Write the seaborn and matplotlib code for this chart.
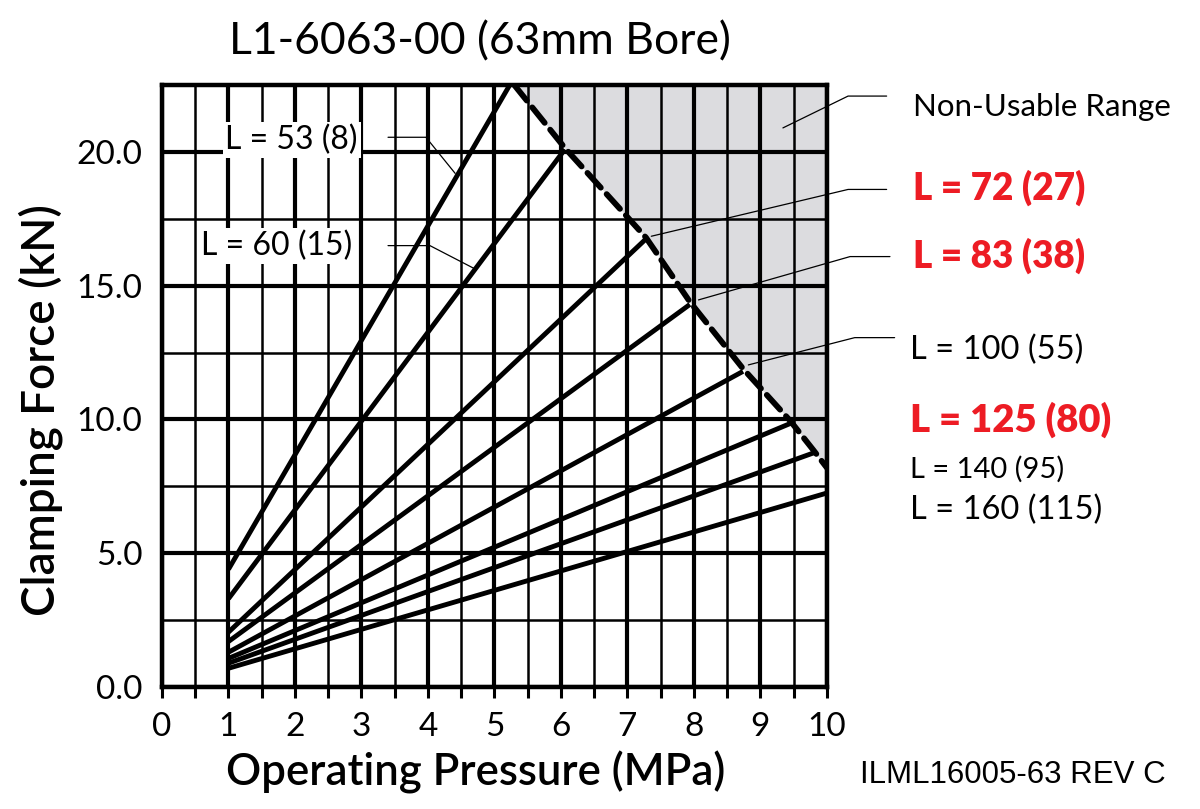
import numpy as np
import pandas as pd
import matplotlib
matplotlib.use("Agg")
import matplotlib.pyplot as plt
import seaborn as sns

# --- data ---
lengths = ["L = 53 (8)", "L = 60 (15)", "L = 72 (27)", "L = 83 (38)",
           "L = 100 (55)", "L = 125 (80)", "L = 140 (95)", "L = 160 (115)"]
start_pressure = [1, 1, 1, 1, 1, 1, 1, 1]
start_force = [4.4, 3.3, 2.05, 1.7, 1.3, 1.07, 0.89, 0.7]
end_pressure = [5.3, 6.06, 7.28, 7.94, 8.74, 9.45, 9.8, 10.0]
end_force = [22.8, 20.1, 16.75, 14.3, 11.8, 9.85, 8.75, 7.25]

# non-usable range boundary (dashed)
limit_pressure = [5.3, 6.06, 7.28, 7.94, 8.74, 9.45, 9.8, 10.0]
limit_force = [22.5, 20.15, 16.8, 14.4, 11.9, 9.95, 8.85, 8.2]

x_ticks = [0, 1, 2, 3, 4, 5, 6, 7, 8, 9, 10]
y_ticks = [0.0, 5.0, 10.0, 15.0, 20.0]
y_ticklabels = ["0.0", "5.0", "10.0", "15.0", "20.0"]

RED = "#ed1c24"

sns.set_theme(style="white")
plt.rcParams["font.family"] = ["Lato", "DejaVu Sans"]
plt.rcParams["text.color"] = "black"
plt.rcParams["xtick.color"] = "black"
plt.rcParams["ytick.color"] = "black"

rows = []
for name, x0, y0, x1, y1 in zip(lengths, start_pressure, start_force, end_pressure, end_force):
    rows.append({"length": name, "pressure": x0, "force": y0})
    rows.append({"length": name, "pressure": x1, "force": y1})
df = pd.DataFrame(rows)

fig = plt.figure(figsize=(12, 8.09), dpi=100)
ax = fig.add_axes([0.135, 0.1508, 0.554, 0.744])

# shaded non-usable area (grid shows through it)
ax.fill_between(limit_pressure, limit_force, 22.5, color="#dcdcdf", zorder=0.3, lw=0)

sns.lineplot(data=df, x="pressure", y="force", units="length", estimator=None,
             color="black", lw=3.5, ax=ax, legend=False, zorder=4,
             solid_capstyle="butt")

ax.plot(limit_pressure, limit_force, color="black", lw=4.2, zorder=5,
        linestyle=(0, (3.4, 1.5)), dash_capstyle="round")

ax.set_xlim(0, 10)
ax.set_ylim(0, 22.5)

# grid: thick on majors, thinner on halves
ax.set_xticks(x_ticks)
ax.set_xticks(np.arange(0.5, 10, 1.0), minor=True)
ax.set_yticks(y_ticks)
ax.set_yticklabels(y_ticklabels)
ax.set_yticks([2.5, 7.5, 12.5, 17.5], minor=True)
ax.set_axisbelow(True)
ax.grid(which="major", color="black", lw=3.0)
ax.grid(which="minor", color="black", lw=1.8)

for s in ax.spines.values():
    s.set_color("black")
    s.set_linewidth(3.2)
    s.set_zorder(6)

ax.tick_params(axis="x", which="both", direction="out", length=8, width=2.2,
               color="black", pad=10, labelsize=24, bottom=True)
ax.tick_params(axis="y", which="both", length=0, pad=14, labelsize=24)
ax.set_xlabel("")
ax.set_ylabel("")

# in-plot labels with leaders
ax.text(1.95, 20.45, "L = 53 (8)", fontsize=23, ha="center",
        va="center", zorder=6, bbox=dict(facecolor="white", edgecolor="none", pad=2))
ax.text(1.73, 16.5, "L = 60 (15)", fontsize=23, ha="center",
        va="center", zorder=6, bbox=dict(facecolor="white", edgecolor="none", pad=2))
ax.plot([3.4, 3.97, 4.41], [20.55, 20.55, 19.2], color="black", lw=0.9, zorder=6)
ax.plot([3.4, 4.03, 4.73], [16.5, 16.5, 15.6], color="black", lw=0.9, zorder=6)

# right-side leaders (outside the axes)
leaders = [
    ([9.34, 10.32, 10.9], [20.9, 22.09, 22.09]),
    ([7.36, 10.32, 10.9], [16.85, 18.6, 18.6]),
    ([8.07, 10.35, 10.95], [14.47, 16.09, 16.09]),
    ([8.82, 10.42, 11.02], [12.04, 13.06, 13.06]),
]
for xs, ys in leaders:
    ax.plot(xs, ys, color="black", lw=0.9, clip_on=False, zorder=6)

ax.text(11.3, 21.68, "Non-Usable Range", fontsize=22.5, ha="left", va="center")
ax.text(11.3, 18.65, "L = 72 (27)", fontsize=26.5, fontweight="heavy", color=RED,
        ha="left", va="center")
ax.text(11.3, 16.11, "L = 83 (38)", fontsize=26.5, fontweight="heavy", color=RED,
        ha="left", va="center")
ax.text(11.25, 12.6, "L = 100 (55)", fontsize=23.5, ha="left", va="center")
ax.text(11.25, 9.98, "L = 125 (80)", fontsize=27.5, fontweight="heavy", color=RED,
        ha="left", va="center")
ax.text(11.25, 8.15, "L = 140 (95)", fontsize=21, ha="left", va="center")
ax.text(11.25, 6.62, "L = 160 (115)", fontsize=23.5, ha="left", va="center")

fig.text(0.40, 0.948, "L1-6063-00 (63mm Bore)", fontsize=32, ha="center", va="center")
fig.text(0.396, 0.045, "Operating Pressure (MPa)", fontsize=31.5, fontweight="semibold",
         ha="center", va="center")
fig.text(0.034, 0.493, "Clamping Force (kN)", fontsize=33, fontweight="semibold",
         rotation=90, ha="center", va="center")
fig.text(0.717, 0.042, "ILML16005-63 REV C", fontsize=22.5, family="Liberation Sans",
         ha="left", va="center")

fig.savefig("out.png", dpi=100)
